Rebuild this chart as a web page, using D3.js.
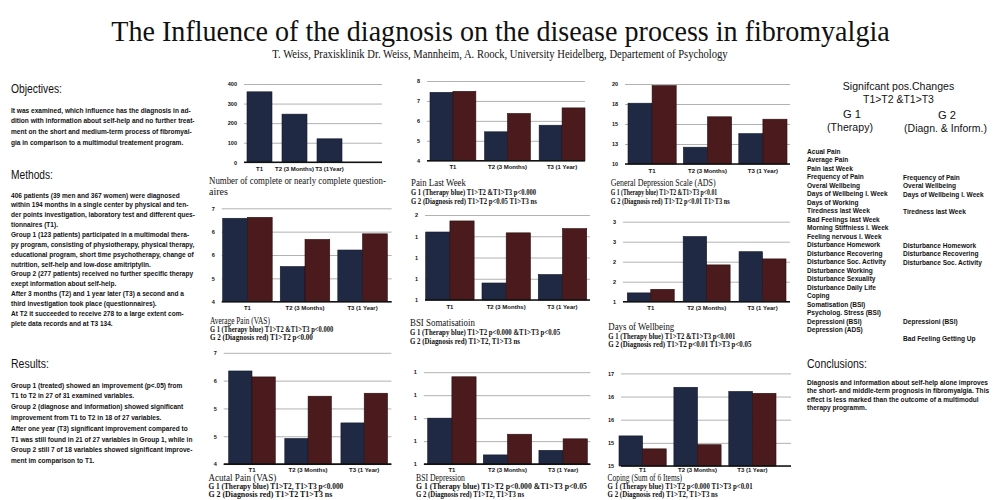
<!DOCTYPE html>
<html>
<head>
<meta charset="utf-8">
<script src="https://cdn.jsdelivr.net/npm/d3@7"></script>
<style>
  body { margin: 0; background: #fff; }
  svg { display: block; }
</style>
</head>
<body>
<div id="poster"></div>
<script>
// ---- chart values ----
var periods = ["T1", "T2 (3 Months)", "T3 (1 Year)"];
var periodsCount = ["T1", "T2 (3 Months)", "T3 (1Year)"];

var completeCounts = [360, 246, 120];
var countTicks = ["0", "100", "200", "300", "400"];

var painWeekG1 = [7.43, 5.45, 5.78];
var painWeekG2 = [7.48, 6.37, 6.65];
var painWeekTicks = ["4", "5", "6", "7", "8"];

var adsG1 = [17.6, 12.1, 13.8];
var adsG2 = [19.8, 15.9, 15.6];
var adsTicks = ["10", "13", "15", "18", "20"];

var avgPainG1 = [6.68, 5.13, 5.66];
var avgPainG2 = [6.71, 6.0, 6.18];
var avgPainTicks = ["4", "5", "6", "6", "7"];

var somaG1 = [1.80, 1.20, 1.30];
var somaG2 = [1.93, 1.79, 1.84];
var somaTicks = ["1", "1", "1", "1", "2"];

var wellG1 = [1.22, 2.63, 2.25];
var wellG2 = [1.31, 1.92, 2.07];
var wellTicks = ["1", "2", "2", "3", "3"];

var acutePainG1 = [6.51, 4.69, 5.11];
var acutePainG2 = [6.35, 5.83, 5.91];
var acutePainTicks = ["4", "5", "5", "6", "7"];

var depG1 = [1.20, 1.04, 1.06];
var depG2 = [1.38, 1.13, 1.11];
var depTicks = ["1", "1", "1", "1", "1"];

var copingG1 = [15.65, 16.70, 16.61];
var copingG2 = [15.37, 15.46, 16.57];
var copingTicks = ["15", "15", "16", "16", "17"];

// ---- texts ----
var objectivesLines = [
  "It was examined, which influence has the diagnosis in ad-",
  "dition with information about self-help and no further treat-",
  "ment on the short and medium-term process of fibromyal-",
  "gia in comparison to a multimodul treatement program."];
var methodsLines = [
  "406 patients (39 men and 367 women) were diagnosed",
  "within 194 months in a single center by physical and ten-",
  "der points investigation, laboratory test and different ques-",
  "tionnaires (T1).",
  "Group 1 (123 patients) participated in a multimodal thera-",
  "py program, consisting of physiotherapy, physical therapy,",
  "educational program, short time psychotherapy, change of",
  "nutrition, self-help and low-dose amitriptylin.",
  "Group 2 (277 patients) received no further specific therapy",
  "exept information about self-help.",
  "After 3 months (T2) and 1 year later (T3) a second and a",
  "third investigation took place (questionnaires).",
  "At T2 it succeeded to receive 278 to a large extent com-",
  "plete data records and at T3 134."];
var resultsLines = [
  "Group 1 (treated) showed an improvement (p<.05) from",
  "T1 to T2 in 27 of 31 examined variables.",
  "Group 2 (diagnose and information) showed significant",
  "improvement from T1 to T2 in 18 of 27 variables.",
  "After one year (T3) significant improvement compared to",
  "T1 was still found in 21 of 27 variables in Group 1, while in",
  "Group 2 still 7 of 18 variables showed significant improve-",
  "ment im comparison to T1."];
var conclusionLines = [
  "Diagnosis and information about self-help alone improves",
  "the short- and middle-term prognosis in fibromyalgia. This",
  "effect is less marked than the outcome of a multimodul",
  "therapy programm."];
var g1Changes = ["Acual Pain", "Average Pain", "Pain last Week", "Frequency of Pain",
  "Overal Wellbeing", "Days of Wellbeing l. Week", "Days of Working", "Tiredness last Week",
  "Bad Feelings last Week", "Morning Stiffniess l. Week", "Feeling nervous l. Week",
  "Disturbance Homework", "Disturbance Recovering", "Disturbance Soc. Activity",
  "Disturbance Working", "Disturbance Sexuality", "Disturbance Daily Life", "Coping",
  "Somatisation (BSI)", "Psycholog. Stress (BSI)", "Depressioni (BSI)", "Depression (ADS)"];
var g2Changes = ["", "", "", "Frequency of Pain", "Overal Wellbeing", "Days of Wellbeing l. Week",
  "", "Tiredness last Week", "", "", "", "Disturbance Homework", "Disturbance Recovering",
  "Disturbance Soc. Activity", "", "", "", "", "", "", "Depressioni (BSI)", "", "Bad Feeling Getting Up"];

var SANS = '"Liberation Sans", Arial, Helvetica, sans-serif';
var SERIF = '"Liberation Serif", "Times New Roman", serif';
var BLUE = "#1f2944", RED = "#4a1a1c";

var svg = d3.select("#poster").append("svg").attr("width", 1000).attr("height", 500);

// text squeezed horizontally: either to a width w, or by a factor k
function txt(x, y, s, font, size, opts) {
  opts = opts || {};
  var g = svg.append("g");
  var t = g.append("text")
    .attr("font-family", font).attr("font-size", size).attr("fill", "#111")
    .attr("text-anchor", opts.anchor || "start")
    .attr("font-weight", opts.bold ? "bold" : "normal")
    .text(s);
  var sx = 1;
  if (opts.w) sx = opts.w / t.node().getComputedTextLength();
  else if (opts.k) sx = opts.k;
  g.attr("transform", "translate(" + x + "," + y + ") scale(" + sx + ",1)");
  return t;
}

// calibrate squeeze of body text on one full line of the poster
var probe = svg.append("text").attr("font-family", SANS).attr("font-size", 7.2)
  .attr("font-weight", "bold").text(methodsLines[8]);
var K = 182.3 / probe.node().getComputedTextLength();
probe.remove();
var body = {bold: true, k: K};

// header
txt(500.5, 40.5, "The Influence of the diagnosis on the disease process in fibromyalgia", SERIF, 30, {anchor: "middle", w: 779});
txt(500, 57.5, "T. Weiss, Praxisklinik Dr. Weiss, Mannheim, A. Roock, University Heidelberg, Departement of Psychology", SERIF, 11.5, {anchor: "middle", w: 456});

// left column
txt(11, 93, "Objectives:", SANS, 12, {w: 51});
objectivesLines.forEach(function(l, i) { txt(11, 112.5 + i * 10.8, l, SANS, 7.2, body); });
txt(11, 179, "Methods:", SANS, 12, {w: 42});
methodsLines.forEach(function(l, i) { txt(11, 197.5 + i * 9.87, l, SANS, 7.2, body); });
txt(11, 367.5, "Results:", SANS, 12, {w: 38});
resultsLines.forEach(function(l, i) { txt(11, 387.5 + i * 10.8, l, SANS, 7.2, body); });

// right column
txt(898.5, 90, "Signifcant pos.Changes", SANS, 10.5, {anchor: "middle", w: 111.6});
txt(898.5, 103, "T1>T2 &T1>T3", SANS, 10.5, {anchor: "middle", w: 71});
txt(852, 118, "G 1", SANS, 10.5, {anchor: "middle", w: 18});
txt(850, 131, "(Therapy)", SANS, 10.5, {anchor: "middle", w: 46});
txt(947, 119, "G 2", SANS, 10.5, {anchor: "middle", w: 18});
txt(945.5, 132, "(Diagn. & Inform.)", SANS, 10.5, {anchor: "middle", w: 83});
g1Changes.forEach(function(l, i) { txt(807, 153.5 + i * 8.5, l, SANS, 7.2, body); });
g2Changes.forEach(function(l, i) { if (l) txt(903, 154 + i * 8.5, l, SANS, 7.2, body); });
txt(807, 368, "Conclusions:", SANS, 12, {w: 60});
conclusionLines.forEach(function(l, i) { txt(807, 384.5 + i * 8.5, l, SANS, 7.2, body); });

// ---- bar charts ----
function barChart(c) {
  var g = svg.append("g");
  var y = d3.scaleLinear().domain(c.domain).range([c.y1, c.y0]);
  var x = d3.scaleBand().domain(c.cats).range(c.band).paddingInner(c.pad).paddingOuter(0);
  var xs = d3.scaleBand().domain(d3.range(c.series.length)).range([0, x.bandwidth()]);
  var n = c.ticks.length;
  var tickVals = d3.range(n).map(function(i) { return c.domain[0] + i * (c.domain[1] - c.domain[0]) / (n - 1); });

  g.append("g").attr("transform", "translate(" + c.x0 + ",0)")
    .call(d3.axisLeft(y).tickValues(tickVals).tickFormat(function(d, i) { return c.ticks[i]; })
      .tickSizeInner(-(c.x1 - c.x0)).tickSizeOuter(0).tickPadding(7))
    .call(function(a) {
      a.select(".domain").remove();
      a.selectAll("line").attr("stroke", "#b2b2b2").attr("stroke-width", 1);
      a.selectAll("text").attr("font-family", SANS).attr("font-weight", "bold")
        .attr("font-size", 5.5).attr("fill", "#111");
    });

  var rows = c.cats.map(function(cat, i) {
    return {cat: cat, vals: c.series.map(function(s) { return s[i]; })};
  });
  g.selectAll("g.grp").data(rows).join("g").attr("class", "grp")
    .attr("transform", function(d) { return "translate(" + x(d.cat) + ",0)"; })
    .selectAll("rect").data(function(d) { return d.vals; }).join("rect")
    .attr("x", function(d, i) { return xs(i); })
    .attr("y", function(d) { return y(d); })
    .attr("width", xs.bandwidth())
    .attr("height", function(d) { return y(c.domain[0]) - y(d); })
    .attr("fill", function(d, i) { return [BLUE, RED][i]; })
    .attr("stroke", function(d, i) { return ["#111829", "#2c0c0d"][i]; })
    .attr("stroke-width", 0.6);

  g.append("line").attr("x1", c.x0).attr("x2", c.x1)
    .attr("y1", y(c.domain[0])).attr("y2", y(c.domain[0]))
    .attr("stroke", "#111").attr("stroke-width", 1.6);

  g.append("g").attr("transform", "translate(0," + y(c.domain[0]) + ")")
    .call(d3.axisBottom(x).tickSize(0).tickPadding(c.lp || 4.5))
    .call(function(a) {
      a.select(".domain").remove();
      a.selectAll("text").attr("font-family", SANS).attr("font-weight", "bold")
        .attr("font-size", 6).attr("fill", "#111");
    });

  c.caps.forEach(function(cp, i) {
    var head = i === 0 || c.plainCaps;
    txt(c.capX, cp[1], cp[0], SERIF, head ? 10.5 : 7.2, {bold: !head, w: cp[2]});
  });
}

barChart({cats: periodsCount, series: [completeCounts], domain: [0, 400], ticks: countTicks,
  x0: 244, x1: 382, y0: 84, y1: 162.3, band: [247, 342], pad: 0.286, capX: 209, plainCaps: true,
  caps: [["Number of complete or nearly complete question-", 184, 177], ["aires", 194.5, 19]]});

barChart({cats: periods, series: [painWeekG1, painWeekG2], domain: [4, 8], ticks: painWeekTicks,
  x0: 427, x1: 585, y0: 81, y1: 160.7, band: [430, 585], pad: 0.16, capX: 411,
  caps: [["Pain Last Week", 186, 55], ["G 1 (Therapy blue) T1>T2 &T1>T3 p<0.000", 195, 125],
         ["G 2 (Diagnosis red) T1>T2 p<0.05  T1>T3 ns", 203.5, 126]]});

barChart({cats: periods, series: [adsG1, adsG2], domain: [10, 20], ticks: adsTicks,
  x0: 625, x1: 790, y0: 84, y1: 164, band: [628, 787], pad: 0.13, capX: 610.7,
  caps: [["General Depression Scale (ADS)", 186, 105], ["G 1 (Therapy blue) T1>T2 &T1>T3 p<0.01", 195, 106.6],
         ["G 2 (Diagnosis red) T1>T2 p<0.01  T1>T3 ns", 203.5, 119]]});

barChart({cats: periods, series: [avgPainG1, avgPainG2], domain: [4, 7], ticks: avgPainTicks,
  x0: 221.7, x1: 391.7, y0: 208.3, y1: 301.7, band: [222.7, 387.3], pad: 0.14, capX: 210,
  caps: [["Average Pain (VAS)", 323.5, 60], ["G 1 (Therapy blue) T1>T2 &T1>T3 p<0.000", 331.5, 123],
         ["G 2 (Diagnosis red) T1>T2 p<0.00", 339.5, 103]]});

barChart({cats: periods, series: [somaG1, somaG2], domain: [1, 2], ticks: somaTicks,
  x0: 425, x1: 590, y0: 215, y1: 300, band: [425.7, 586.7], pad: 0.14, capX: 410,
  caps: [["BSI Somatisatioin", 326, 65], ["G 1 (Therapy blue) T1>T2 p<0.000 &T1>T3 p<0.05", 335, 150],
         ["G 2 (Diagnosis red) T1>T2,  T1>T3 ns", 344, 110]]});

barChart({cats: periods, series: [wellG1, wellG2], domain: [1, 3], ticks: wellTicks,
  x0: 623, x1: 790, y0: 221.7, y1: 301.7, band: [627.3, 786], pad: 0.16, capX: 608.3,
  caps: [["Days of Wellbeing", 329.5, 66], ["G 1 (Therapy blue) T1>T2 &T1>T3 p<0.001", 338.5, 127],
         ["G 2 (Diagnosis red) T1>T2 p<0.01  T1>T3 p<0.05", 346.5, 143]]});

barChart({cats: periods, series: [acutePainG1, acutePainG2], domain: [4, 7], ticks: acutePainTicks,
  x0: 223.7, x1: 391.4, y0: 352.8, y1: 464.1, band: [228.7, 387.5], pad: 0.17, capX: 208.4, lp: 3.5,
  caps: [["Acutal Pain (VAS)", 480.5, 68], ["G 1 (Therapy blue) T1>T2, T1>T3 p<0.000", 488.5, 135],
         ["G 2 (Diagnosis red) T1>T2  T1>T3  ns", 496.5, 124]]});

barChart({cats: periods, series: [depG1, depG2], domain: [1, 1.4], ticks: depTicks,
  x0: 423.9, x1: 590.4, y0: 372.2, y1: 464.1, band: [427.7, 587.3], pad: 0.13, capX: 416, lp: 3.5,
  caps: [["BSI Depression", 480.5, 49], ["G 1 (Therapy blue) T1>T2 p<0.000 &T1>T3 p<0.05", 488.5, 171],
         ["G 2 (Diagnosis red) T1>T2,  T1>T3 ns", 496.5, 108]]});

barChart({cats: periods, series: [copingG1, copingG2], domain: [15, 17], ticks: copingTicks,
  x0: 621, x1: 791, y0: 373.4, y1: 466, band: [619, 776], pad: 0.14, capX: 607.6, lp: 2,
  caps: [["Coping (Sum of 6 Items)", 480.5, 74.6], ["G 1 (Therapy blue) T1>T2 p<0.000 T1>T3 p<0.01", 488.5, 145],
         ["G 2 (Diagnosis red) T1>T2,  T1>T3 ns", 496.5, 110]]});
</script>
</body>
</html>
